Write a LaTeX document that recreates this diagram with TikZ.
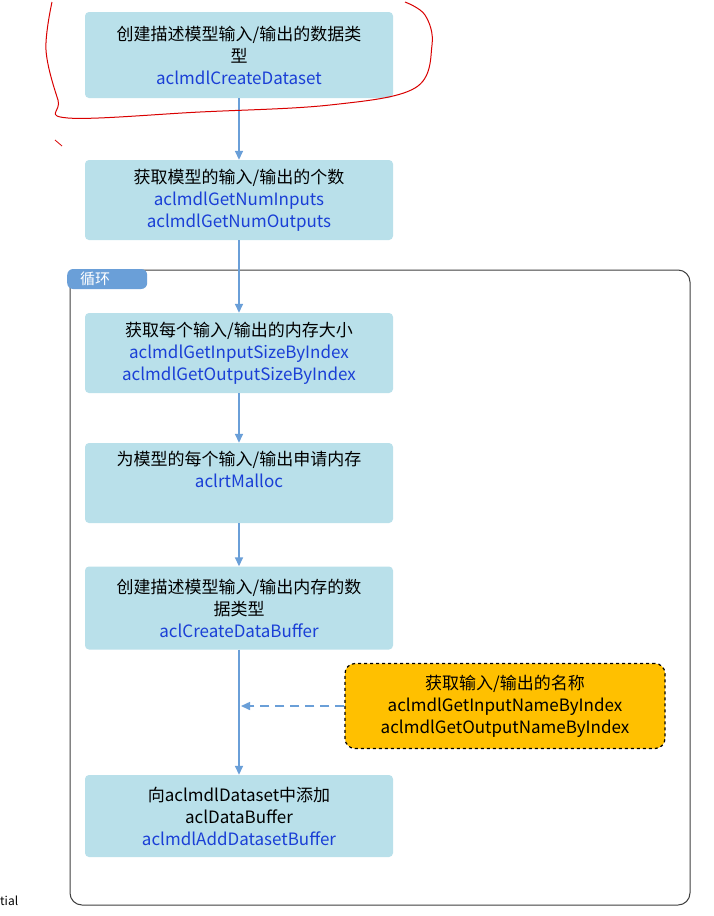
\documentclass[tikz,border=0pt]{standalone}
\usepackage{fontspec}
\setmainfont{Noto Sans CJK SC}
\usetikzlibrary{arrows.meta}
\definecolor{boxfill}{HTML}{B9E0EA}
\definecolor{arr}{HTML}{6A9FD8}
\definecolor{fn}{HTML}{1A3FD6}
\definecolor{org}{HTML}{FFC000}
\tikzset{
 stepbox/.style={fill=boxfill,rounded corners=4pt,minimum width=308pt,align=center,font=\fontsize{17}{22}\selectfont,inner sep=1pt},
 conn/.style={draw=arr,line width=1.5pt,-{Triangle[length=9pt,width=8pt]}},
}
\newcommand{\fnm}[1]{\textcolor{fn}{#1}}
\begin{document}
\begin{tikzpicture}[x=1pt,y=-1pt]
\useasboundingbox (0,0) rectangle (714,916);
\fill[white] (0,0) rectangle (714,916);
% loop frame
\draw[black!75,line width=1pt,rounded corners=12pt] (70,270) rectangle (690,905);
\node[fill=arr,text=white,rounded corners=6pt,minimum width=80pt,minimum height=20pt,font=\fontsize{15}{16}\selectfont,anchor=west,inner sep=1pt] (loop) at (67,279) {\hspace*{-24pt}循环};
\node[stepbox,minimum height=86pt] (b1) at (239,55) {创建描述模型输入/输出的数据类\\型\\\fnm{aclmdlCreateDataset}};
\node[stepbox,minimum height=80pt] (b2) at (239,200) {获取模型的输入/输出的个数\\\fnm{aclmdlGetNumInputs}\\\fnm{aclmdlGetNumOutputs}};
\node[stepbox,minimum height=80pt] (b3) at (239,353) {获取每个输入/输出的内存大小\\\fnm{aclmdlGetInputSizeByIndex}\\\fnm{aclmdlGetOutputSizeByIndex}};
\node[stepbox,minimum height=80pt] (b4) at (239,483) {为模型的每个输入/输出申请内存\\\fnm{aclrtMalloc}\\[6pt]};
\node[stepbox,minimum height=83pt] (b5) at (239,608) {创建描述模型输入/输出内存的数\\据类型\\\fnm{aclCreateDataBuffer}};
\node[stepbox,minimum height=82pt] (b6) at (239,816) {向aclmdlDataset中添加\\aclDataBuffer\\\fnm{aclmdlAddDatasetBuffer}};
\node[fill=org,draw=black,dashed,line width=1.2pt,rounded corners=10pt,minimum width=320pt,minimum height=85pt,align=center,font=\fontsize{17}{22}\selectfont,inner sep=1pt] (o) at (505,706) {获取输入/输出的名称\\aclmdlGetInputNameByIndex\\aclmdlGetOutputNameByIndex};
\coordinate (m) at (241,706);
\draw[conn] (b1) -- (b2);
\draw[conn] (b2) -- (b3);
\draw[conn] (b3) -- (b4);
\draw[conn] (b4) -- (b5);
\draw[conn] (b5) -- (b6);
\draw[draw=arr,line width=1.5pt,dashed,dash pattern=on 9pt off 6pt,-{Triangle[length=9pt,width=8pt]}] (o.west) -- (m);
% red annotation
\draw[red!85!black,line width=1pt] plot[smooth,tension=0.6] coordinates {(52,2) (46,50) (58,100) (68,118) (200,112) (330,105) (415,88) (432,45) (425,15) (405,2)};
\draw[red!85!black,line width=0.8pt] (55,140) -- (62,146);
\node[anchor=west,font=\fontsize{12}{13}\selectfont,inner sep=0pt] (t) at (0,901) {tial};
\end{tikzpicture}
\end{document}
